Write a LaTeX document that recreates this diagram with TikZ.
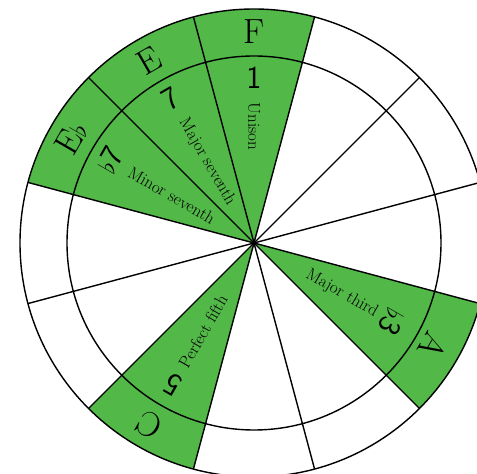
\documentclass[tikz,border=0pt]{standalone}
\usepackage{fontspec}
\usetikzlibrary{calc}
\definecolor{sectgreen}{RGB}{82,184,72}
\begin{document}
\begin{tikzpicture}[x=1pt,y=1pt, line width=1.4pt,
  notelabel/.style={font=\fontsize{35}{40}\selectfont, inner sep=0pt},
  degreelabel/.style={font=\sffamily\fontsize{32}{36}\selectfont, inner sep=0pt},
  intervallabel/.style={font=\fontsize{17}{20}\selectfont, inner sep=0pt}]
\useasboundingbox (0,0) rectangle (477,474);
\coordinate (O) at (254,231);
% shaded sectors
\foreach \a in {90,120,150,240,330}
  \fill[sectgreen] (O) -- ($(O)+(\a-15:234)$) arc[start angle=\a-15, end angle=\a+15, radius=234] -- cycle;
% radial lines
\foreach \a in {15,45,...,345}
  \draw ($(O)+(\a:234)$) coordinate (r\a) (O) -- (r\a);
% circles
\draw (O) circle[radius=187];
\draw (O) circle[radius=234];
% note names (outer ring)
\node[notelabel, rotate=0]   (nF)  at ($(O)+(90:211)$)  {F};
\node[notelabel, rotate=30]  (nE)  at ($(O)+(120:210)$) {E};
\node[notelabel, rotate=60]  (nEb) at ($(O)+(150:211)$) {E$\flat$};
\node[notelabel, rotate=150] (nC)  at ($(O)+(240:210)$) {C};
\node[notelabel, rotate=240] (nA)  at ($(O)+(330:207)$) {A};
% degrees
\node[degreelabel, rotate=0]   (d1)  at ($(O)+(90:165)$)  {1};
\node[degreelabel, rotate=30]  (d7)  at ($(O)+(120:166)$) {7};
\node[degreelabel, rotate=60]  (db7) at ($(O)+(150:166)$) {$\flat$7};
\node[degreelabel, rotate=150] (d5)  at ($(O)+(240:163)$) {5};
\node[degreelabel, rotate=240] (db3) at ($(O)+(330:159)$) {$\flat$3};
% interval names
\node[intervallabel, rotate=270, anchor=west] (iU)  at ($(O)+(90:141)$)  {Unison};
\node[intervallabel, rotate=300, anchor=west] (iM7) at ($(O)+(120:143)$) {Major seventh};
\node[intervallabel, rotate=330, anchor=west] (im7) at ($(O)+(150:144)$) {Minor seventh};
\node[intervallabel, rotate=60,  anchor=west] (iP5) at ($(O)+(240:143)$) {Perfect fifth};
\node[intervallabel, rotate=330, anchor=east] (iM3) at ($(O)+(330:142)$) {Major third};
\end{tikzpicture}
\end{document}
